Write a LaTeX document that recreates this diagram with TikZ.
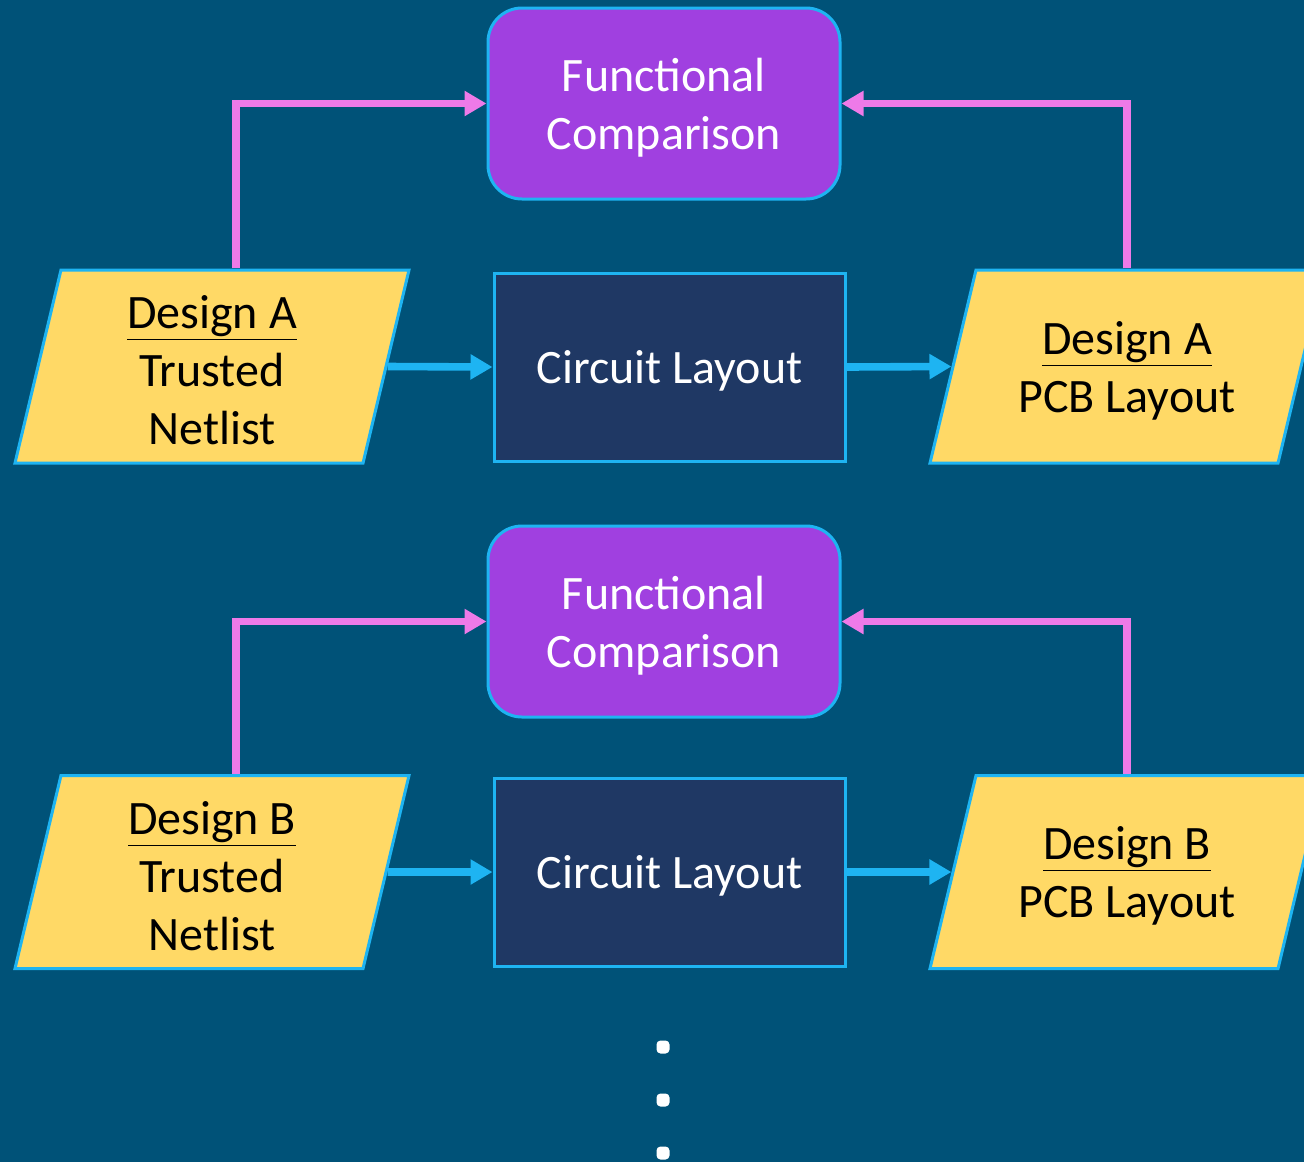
\documentclass[tikz,border=0pt]{standalone}
\usepackage{fontspec}
\setmainfont{Carlito}
\usepackage{tikz}
\usetikzlibrary{shapes.geometric,positioning}
\usetikzlibrary{arrows.meta}
\definecolor{bgblue}{HTML}{005278}
\definecolor{edgeblue}{HTML}{1EB4F2}
\definecolor{cmpviolet}{HTML}{A040E0}
\definecolor{boxnavy}{HTML}{1F3864}
\definecolor{sand}{HTML}{FFD966}
\definecolor{pinkline}{HTML}{EE7AE8}
\newcommand{\bigtext}{\fontsize{24}{29}\selectfont}
\tikzstyle{blocco} = [font=\bigtext, line width=1.5pt, draw=edgeblue,
execute at begin node={\begin{minipage}[c][80pt][c]{140pt}\centering\vspace*{4pt}},
execute at end node={\end{minipage}}]
\tikzstyle{confronto} = [blocco, rectangle, rounded corners=17pt, minimum width=176pt, minimum height=95.5pt,
inner sep=0pt, fill=cmpviolet, text=white]
\tikzstyle{circuito} = [blocco, rectangle, minimum width=175.5pt, minimum height=94pt,
inner sep=0pt, fill=boxnavy, text=white]
\tikzstyle{progetto} = [blocco, trapezium, trapezium left angle=76.6, trapezium right angle=103.4,
trapezium stretches body, minimum width=197pt, minimum height=96.5pt, inner xsep=0pt, inner ysep=8.25pt,
fill=sand, text=black]
\tikzstyle{flusso} = [line width=3.8pt, draw=edgeblue, -{Triangle[length=11pt,width=12pt]}]
\tikzstyle{verifica} = [line width=3.6pt, draw=pinkline, -{Triangle[length=11pt,width=12pt]}]
\tikzstyle{puntino} = [rectangle, rounded corners=2pt, minimum size=6.5pt, inner sep=0pt, fill=white]

\begin{document}
\begin{tikzpicture}[x=0.5pt,y=-0.5pt]
	\useasboundingbox (0,0) rectangle (1304,1162);
	\fill[bgblue] (0,0) rectangle (1304,1162);
	\clip (0,0) rectangle (1304,1162);
	% primo progetto
	\node (fa) at (664,103.5) [confronto] {Functional\\Comparison};
	\node (ca) at (669.5,367) [circuito] {Circuit Layout};
	\node (ta) at (212,366.5) [progetto] {\underline{Design A}\\Trusted\\Netlist};
	\node (pa) at (1127,366.5) [progetto] {\underline{Design A}\\PCB Layout};
	\draw[flusso] (ta.east) -- (ca.west);
	\draw[flusso] (ca.east) -- (pa.west);
	\draw[verifica] ([xshift=12pt]ta.north) |- (fa.west);
	\draw[verifica] (pa.north) |- (fa.east);
	% secondo progetto
	\node (fb) at (664,621.5) [confronto] {Functional\\Comparison};
	\node (cb) at (669.5,872) [circuito] {Circuit Layout};
	\node (tb) at (212,872) [progetto] {\underline{Design B}\\Trusted\\Netlist};
	\node (pb) at (1127,872) [progetto] {\underline{Design B}\\PCB Layout};
	\draw[flusso] (tb.east) -- (cb.west);
	\draw[flusso] (cb.east) -- (pb.west);
	\draw[verifica] ([xshift=12pt]tb.north) |- (fb.west);
	\draw[verifica] (pb.north) |- (fb.east);
	% altri progetti
	\node (d1) at (663,1047) [puntino] {};
	\node (d2) at (663,1100) [puntino] {};
	\node (d3) at (663,1153) [puntino] {};
\end{tikzpicture}
\end{document}
